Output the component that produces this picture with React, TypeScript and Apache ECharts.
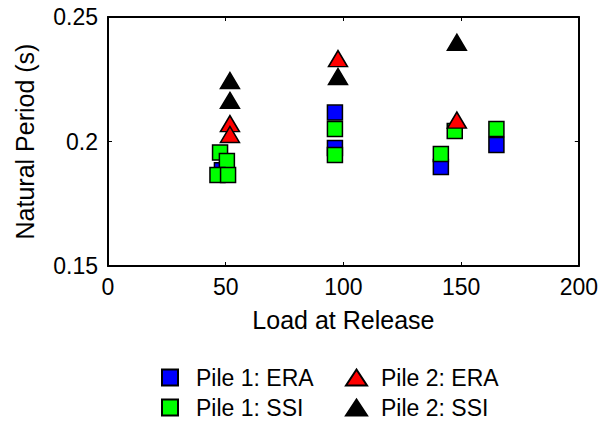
import React, { useEffect, useRef } from "react";
import * as echarts from "echarts";

const seriesNames = ["Pile 1: ERA", "Pile 1: SSI", "Pile 2: ERA", "Pile 2: SSI"];

const era1Load = [48.4, 96.4, 96.4, 141.4, 165];
const era1Period = [0.1885, 0.2116, 0.1974, 0.1898, 0.1986];

const ssi1Load = [47.6, 50.5, 46.5, 51, 96.4, 96.4, 141.4, 147.3, 165];
const ssi1Period = [0.1956, 0.1922, 0.1865, 0.1865, 0.205, 0.1946, 0.195, 0.2042, 0.205];

const era2Load = [51.8, 51.8, 97.7, 148.2];
const era2Period = [0.2072, 0.2028, 0.2333, 0.2086];

const ssi2Load = [51.8, 51.8, 97.7, 148.2];
const ssi2Period = [0.2245, 0.2165, 0.2261, 0.2398];

const xTicks = [0, 50, 100, 150, 200];
const yTicks = [0.15, 0.2, 0.25];

const zip = (xs: number[], ys: number[]) => xs.map((x, i) => [x, ys[i]]);

export default function App() {
  const ref = useRef<HTMLDivElement>(null);
  useEffect(() => {
    if (!ref.current) return;
    const chart = echarts.init(ref.current, undefined, { renderer: "svg" });
    const font = "Liberation Sans, Arial, sans-serif";
    const axisCommon = {
      type: "value" as const,
      axisLine: { show: true, onZero: false, lineStyle: { color: "#000", width: 2 } },
      axisTick: { show: true, inside: true, length: 4, lineStyle: { color: "#000", width: 1 } },
      splitLine: { show: false },
    };
    const border = { borderColor: "#000", borderWidth: 1.5, opacity: 1 };
    chart.setOption({
      animation: false,
      grid: { left: 108, top: 17, right: 22, bottom: 159 },
      xAxis: [
        {
          ...axisCommon,
          position: "bottom",
          min: xTicks[0],
          max: xTicks[xTicks.length - 1],
          interval: 50,
          name: "Load at Release",
          nameLocation: "middle",
          nameGap: 41,
          nameTextStyle: { fontFamily: font, fontSize: 25, color: "#000" },
          axisLabel: { fontFamily: font, fontSize: 23, color: "#000", margin: 9 },
        },
        {
          ...axisCommon,
          position: "top",
          min: xTicks[0],
          max: xTicks[xTicks.length - 1],
          interval: 50,
          axisLabel: { show: false },
        },
      ],
      yAxis: [
        {
          ...axisCommon,
          position: "left",
          min: yTicks[0],
          max: yTicks[yTicks.length - 1],
          interval: 0.05,
          name: "Natural Period (s)",
          nameLocation: "middle",
          nameGap: 71,
          nameTextStyle: { fontFamily: font, fontSize: 25, color: "#000" },
          axisLabel: { fontFamily: font, fontSize: 23, color: "#000", margin: 10 },
        },
        {
          ...axisCommon,
          position: "right",
          min: yTicks[0],
          max: yTicks[yTicks.length - 1],
          interval: 0.05,
          axisLabel: { show: false },
        },
      ],
      legend: [
        {
          data: [seriesNames[0], seriesNames[1]],
          orient: "vertical",
          left: 161,
          top: 366,
          height: 58,
          itemWidth: 16,
          itemHeight: 16,
          itemGap: 7,
          padding: 0,
          textStyle: { fontFamily: font, fontSize: 23, color: "#000", padding: [0, 0, 0, 13] },
        },
        {
          data: [seriesNames[2], seriesNames[3]],
          orient: "vertical",
          left: 345,
          top: 366,
          height: 58,
          itemWidth: 21,
          itemHeight: 16,
          itemGap: 7,
          padding: 0,
          textStyle: { fontFamily: font, fontSize: 23, color: "#000", padding: [0, 0, 0, 9] },
        },
      ],
      series: [
        {
          name: seriesNames[0],
          type: "scatter",
          symbol: "rect",
          symbolSize: 15,
          itemStyle: { color: "#0000ff", ...border },
          data: zip(era1Load, era1Period),
        },
        {
          name: seriesNames[1],
          type: "scatter",
          symbol: "rect",
          symbolSize: 15,
          itemStyle: { color: "#00ff00", ...border },
          data: zip(ssi1Load, ssi1Period),
        },
        {
          name: seriesNames[2],
          type: "scatter",
          symbol: "triangle",
          symbolSize: [19, 16],
          itemStyle: { color: "#ff0000", ...border },
          data: zip(era2Load, era2Period),
        },
        {
          name: seriesNames[3],
          type: "scatter",
          symbol: "triangle",
          symbolSize: [19, 16],
          itemStyle: { color: "#000000", ...border },
          data: zip(ssi2Load, ssi2Period),
        },
      ],
    });
    return () => chart.dispose();
  }, []);
  return (
    <div
      ref={ref}
      style={{ position: "fixed", left: 0, top: 0, width: 601, height: 425, background: "#fff" }}
    />
  );
}
